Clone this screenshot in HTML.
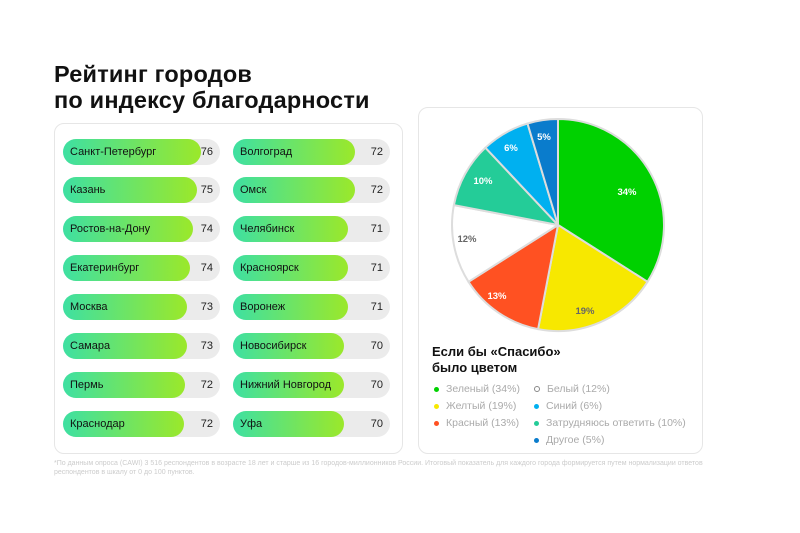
<!DOCTYPE html>
<html><head><meta charset="utf-8"><style>
body{margin:0;width:800px;height:533px;background:#fff;font-family:"Liberation Sans","DejaVu Sans",sans-serif;position:relative;overflow:hidden}
.t{position:absolute;left:54px;top:61px;font-size:23.5px;font-weight:bold;line-height:26px;color:#111;letter-spacing:0.2px}
.panel{position:absolute;border:1.5px solid #e6e6e6;border-radius:10px;background:#fff}
.bar{position:absolute;height:26px;border-radius:13px;background:#ebebeb}
.fill{position:absolute;left:0;top:0;height:26px;border-radius:13px;background:linear-gradient(90deg,#3ee0a2,#9be82a)}
.nm{position:absolute;left:7px;top:0;line-height:26px;font-size:11px;color:#111}
.v{position:absolute;right:7px;top:0;line-height:26px;font-size:11px;color:#222}
.lg{position:absolute;font-size:10.5px;color:#aaa}
.lg i{display:inline-block;width:5px;height:5px;border-radius:50%;margin-right:7px;vertical-align:middle}
.fn{position:absolute;left:54px;top:459px;font-size:7px;color:#ccc;line-height:9px;width:660px}
</style></head><body>
<div class="t">Рейтинг городов<br>по индексу благодарности</div>
<div class="panel" style="left:54px;top:123px;width:347px;height:329px"></div>
<div class="panel" style="left:418px;top:107px;width:283px;height:345px"></div>

<div class="bar" style="left:63px;top:139px;width:157px"><div class="fill" style="width:138px"></div><span class="nm">Санкт-Петербург</span><span class="v">76</span></div>
<div class="bar" style="left:63px;top:177px;width:157px"><div class="fill" style="width:134px"></div><span class="nm">Казань</span><span class="v">75</span></div>
<div class="bar" style="left:63px;top:216px;width:157px"><div class="fill" style="width:130px"></div><span class="nm">Ростов-на-Дону</span><span class="v">74</span></div>
<div class="bar" style="left:63px;top:255px;width:157px"><div class="fill" style="width:127px"></div><span class="nm">Екатеринбург</span><span class="v">74</span></div>
<div class="bar" style="left:63px;top:294px;width:157px"><div class="fill" style="width:124px"></div><span class="nm">Москва</span><span class="v">73</span></div>
<div class="bar" style="left:63px;top:333px;width:157px"><div class="fill" style="width:124px"></div><span class="nm">Самара</span><span class="v">73</span></div>
<div class="bar" style="left:63px;top:372px;width:157px"><div class="fill" style="width:122px"></div><span class="nm">Пермь</span><span class="v">72</span></div>
<div class="bar" style="left:63px;top:411px;width:157px"><div class="fill" style="width:121px"></div><span class="nm">Краснодар</span><span class="v">72</span></div>

<div class="bar" style="left:233px;top:139px;width:157px"><div class="fill" style="width:122px"></div><span class="nm">Волгоград</span><span class="v">72</span></div>
<div class="bar" style="left:233px;top:177px;width:157px"><div class="fill" style="width:122px"></div><span class="nm">Омск</span><span class="v">72</span></div>
<div class="bar" style="left:233px;top:216px;width:157px"><div class="fill" style="width:115px"></div><span class="nm">Челябинск</span><span class="v">71</span></div>
<div class="bar" style="left:233px;top:255px;width:157px"><div class="fill" style="width:115px"></div><span class="nm">Красноярск</span><span class="v">71</span></div>
<div class="bar" style="left:233px;top:294px;width:157px"><div class="fill" style="width:115px"></div><span class="nm">Воронеж</span><span class="v">71</span></div>
<div class="bar" style="left:233px;top:333px;width:157px"><div class="fill" style="width:111px"></div><span class="nm">Новосибирск</span><span class="v">70</span></div>
<div class="bar" style="left:233px;top:372px;width:157px"><div class="fill" style="width:111px"></div><span class="nm">Нижний Новгород</span><span class="v">70</span></div>
<div class="bar" style="left:233px;top:411px;width:157px"><div class="fill" style="width:111px"></div><span class="nm">Уфа</span><span class="v">70</span></div>

<svg style="position:absolute;left:0;top:0" width="800" height="533">
<g stroke="#ddd" stroke-width="2" stroke-linejoin="round">
<path d="M558,225 L558,119 A106,106 0 0 1 647.5,281.8 Z" fill="#00d100"/>
<path d="M558,225 L647.5,281.8 A106,106 0 0 1 538.1,329.1 Z" fill="#f7e800"/>
<path d="M558,225 L538.1,329.1 A106,106 0 0 1 468.5,281.8 Z" fill="#ff5122"/>
<path d="M558,225 L468.5,281.8 A106,106 0 0 1 453.9,205.1 Z" fill="#ffffff"/>
<path d="M558,225 L453.9,205.1 A106,106 0 0 1 485.4,147.7 Z" fill="#24cc98"/>
<path d="M558,225 L485.4,147.7 A106,106 0 0 1 527.5,123.5 Z" fill="#00b0f0"/>
<path d="M558,225 L527.5,123.5 A106,106 0 0 1 558,119 Z" fill="#0a7ccc"/>
</g>
<g font-size="9.5" font-weight="bold" text-anchor="middle" font-family="Liberation Sans,sans-serif">
<text x="627" y="195" fill="#fff">34%</text>
<text x="585" y="314" fill="#666">19%</text>
<text x="497" y="299" fill="#fff">13%</text>
<text x="467" y="242" fill="#666">12%</text>
<text x="483" y="184" fill="#fff">10%</text>
<text x="511" y="151" fill="#fff">6%</text>
<text x="544" y="140" fill="#fff">5%</text>
</g>
</svg>

<div style="position:absolute;left:432px;top:344px;font-size:13px;font-weight:bold;line-height:16px;color:#111">Если бы «Спасибо»<br>было цветом</div>
<div class="lg" style="left:434px;top:383px"><i style="background:#00d100"></i>Зеленый (34%)</div>
<div class="lg" style="left:434px;top:400px"><i style="background:#f7e800"></i>Желтый (19%)</div>
<div class="lg" style="left:434px;top:417px"><i style="background:#ff5122"></i>Красный (13%)</div>
<div class="lg" style="left:534px;top:383px"><i style="border:1px solid #888;width:4px;height:4px"></i>Белый (12%)</div>
<div class="lg" style="left:534px;top:400px"><i style="background:#00b0f0"></i>Синий (6%)</div>
<div class="lg" style="left:534px;top:417px"><i style="background:#24cc98"></i>Затрудняюсь ответить (10%)</div>
<div class="lg" style="left:534px;top:434px"><i style="background:#0a7ccc"></i>Другое (5%)</div>

<div class="fn">*По данным опроса (CAWI) 3 516 респондентов в возрасте 18 лет и старше из 16 городов-миллионников России. Итоговый показатель для каждого города формируется путем нормализации ответов респондентов в шкалу от 0 до 100 пунктов.</div>
</body></html>
